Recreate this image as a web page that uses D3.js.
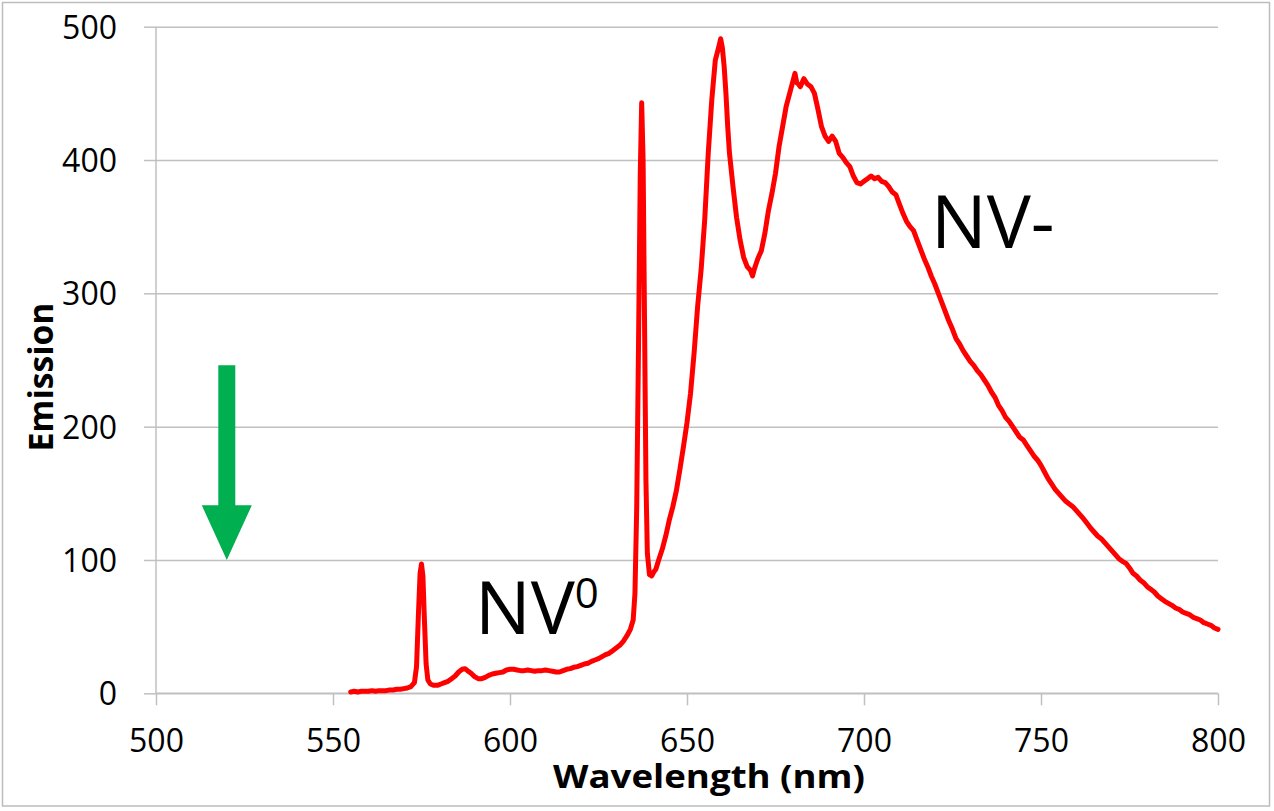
<!DOCTYPE html>
<html>
<head>
<meta charset="utf-8">
<script src="https://cdn.jsdelivr.net/npm/d3@7"></script>
<style>
  body { margin: 0; background: #fff; }
  svg text { font-family: "Open Sans", "Noto Sans", sans-serif; fill: #000; }
</style>
</head>
<body>
<div id="chart"></div>
<script>
// Emission spectrum (wavelength in nm, emission in counts)
var wavelength = [
  555, 556, 557, 558, 559, 560, 561, 562, 563, 564, 565, 566, 567, 568, 569, 570, 571, 572, 573,
  573.6, 574.1, 574.6, 575.0, 575.4, 575.8, 576.3, 576.8, 577.5, 578.5, 579.5, 580.5, 581.5, 582.5,
  583.5, 584.5, 585.5, 586.5, 587.3, 588, 589, 590, 591, 592, 593, 594, 595, 596, 597, 598, 599,
  600, 601, 602, 603, 604, 605, 606, 607, 608, 609, 610, 611, 612, 613, 614, 615, 616, 617, 618,
  619, 620, 621, 622, 623, 624, 625, 626, 627, 628, 629, 630, 631, 632, 633, 634, 634.8, 635.3,
  635.8, 636.3, 636.8, 637.2, 637.6, 638.0, 638.4, 638.8, 639.4, 640, 640.6, 641.2, 642, 643, 644,
  645, 646, 647, 648, 649, 650, 651, 652, 653, 654, 655, 656, 657, 658, 659, 659.5, 660, 660.5,
  661, 661.5, 662, 663, 664, 665, 666, 667, 668, 668.5, 669, 669.5, 670, 671, 672, 673, 674, 675,
  676, 677, 678, 679, 680, 680.5, 681, 681.5, 682, 683, 684, 685, 686, 687, 688, 689, 690, 691,
  692, 693, 694, 695, 696, 697, 698, 699, 700, 701, 702, 703, 704, 705, 706, 707, 708, 709, 710,
  711, 712, 713, 714, 715, 716, 717, 718, 719, 720, 721, 722, 723, 724, 725, 726, 727, 728, 729,
  730, 731, 732, 733, 734, 735, 736, 737, 738, 739, 740, 741, 742, 743, 744, 745, 746, 747, 748,
  749, 750, 751, 752, 753, 754, 755, 756, 757, 758, 759, 760, 761, 762, 763, 764, 765, 766, 767,
  768, 769, 770, 771, 772, 773, 774, 775, 776, 777, 778, 779, 780, 781, 782, 783, 784, 785, 786,
  787, 788, 789, 790, 791, 792, 793, 794, 795, 796, 797, 798, 799, 800
];
var emission = [
  1, 1.5, 1, 1.5, 1.5, 1.5, 2, 1.5, 2, 2, 2, 2.5, 2.5, 3, 3, 3.5, 4, 5, 8,
  20, 57, 90, 97, 88, 57, 22, 10, 7, 6, 6, 7, 8, 9,
  11, 13, 16, 18, 18.5, 17, 15, 12.5, 11, 11, 12, 13.5, 14.5, 15, 15.5, 16, 17.5,
  18, 18, 17.5, 17, 17, 17.5, 17, 16.5, 17, 17, 17.5, 17, 16.5, 16, 16, 17, 18, 18.5, 19.5,
  20, 21, 22, 22.5, 24, 25, 26, 27.5, 29, 30, 32, 34, 36, 39, 43, 48, 55, 75,
  140, 260, 390, 443, 400, 280, 160, 105, 89, 88, 91, 93, 100, 108, 118,
  130, 140, 152, 168, 185, 203, 225, 255, 290, 318, 355, 405, 445, 475, 485, 491, 484, 470,
  450, 425, 405, 380, 357, 340, 327, 320, 317, 313, 318, 322, 326, 332, 345, 362, 375, 390,
  410, 425, 440, 450, 460, 465, 458, 457, 455, 461, 457, 455, 450, 438, 425, 418, 414, 418,
  414, 405, 402, 398, 395, 388, 383, 382, 384, 386, 388, 386, 387, 384, 383, 380, 376, 374, 367,
  360, 354, 350, 347, 340, 333, 326, 320, 313, 307, 300, 293, 286, 279, 273, 266, 262, 257, 253,
  249, 246, 242, 239, 235, 231, 226, 222, 216, 212, 207, 204, 200, 196, 192, 190, 186, 182, 178,
  175, 171, 166, 161, 157, 153, 150, 147, 144, 142, 140, 137, 134, 131, 127.5, 124, 121, 118, 116,
  113, 110, 107, 104, 101, 99, 97.5, 94, 90, 88, 85, 83, 80, 78, 76, 73, 71, 69, 67.5,
  66, 64, 63, 61, 60, 59, 57, 56, 55, 53, 52, 51, 49, 48
];

var xTicks = [500, 550, 600, 650, 700, 750, 800];
var yTicks = [0, 100, 200, 300, 400, 500];

// annotations: text labels and the green arrow (arrow in data units)
var nv0Label = { text: "NV", sup: "0", x: 475, y: 634 };
var nvmLabel = { text: "NV-", x: 931, y: 248 };
var arrow = { wl: 520, top: 246, headTop: 141, tip: 100 };

var W = 1274, H = 811;
var margin = { top: 26.7, right: 56, bottom: 811 - 693.3, left: 156 };
var width = W - margin.left - margin.right,
    height = H - margin.top - margin.bottom;

var svg = d3.select("#chart").append("svg")
    .attr("width", W)
    .attr("height", H);

// outer chart frame
svg.append("rect")
    .attr("x", 2.5).attr("y", 2.5)
    .attr("width", 1267).attr("height", 803.5)
    .attr("fill", "none")
    .attr("stroke", "#bdbdbd")
    .attr("stroke-width", 1.5);

var g = svg.append("g")
    .attr("transform", "translate(" + margin.left + "," + margin.top + ")");

var x = d3.scaleLinear().domain([500, 800]).range([0, width]);
var y = d3.scaleLinear().domain([0, 500]).range([height, 0]);

var gridColor = "#c0c0c0";

// horizontal gridlines
var yGrid = g.append("g")
    .call(d3.axisLeft(y).tickValues(yTicks).tickSize(width).tickPadding(0).tickFormat(""))
    .attr("transform", "translate(" + width + ",0)");
yGrid.select(".domain").remove();
yGrid.selectAll("line").attr("stroke", gridColor).attr("stroke-width", 1.5);

// y axis
var yTickG = g.append("g")
    .call(d3.axisLeft(y).tickValues(yTicks).tickSize(12).tickPadding(27));
yTickG.select(".domain").attr("stroke", gridColor).attr("stroke-width", 1.5)
    .attr("d", "M0," + height + "V0");
yTickG.selectAll("line").attr("stroke", gridColor).attr("stroke-width", 1.5);
yTickG.selectAll("text")
    .style("font-size", "32px")
    .attr("dy", "0.36em");

// x axis
var xTickG = g.append("g")
    .attr("transform", "translate(0," + height + ")")
    .call(d3.axisBottom(x).tickValues(xTicks).tickSize(12).tickPadding(10));
xTickG.select(".domain").attr("stroke", gridColor).attr("stroke-width", 1.5)
    .attr("d", "M0,0H" + width);
xTickG.selectAll("line").attr("stroke", gridColor).attr("stroke-width", 1.5);
xTickG.selectAll("text")
    .style("font-size", "32px")
    .attr("y", 0)
    .attr("dy", 752 - 693.3);

// spectrum
var data = wavelength.map(function(d, i) { return { wl: d, v: emission[i] }; });

var line = d3.line()
    .x(function(d) { return x(d.wl); })
    .y(function(d) { return y(d.v); });

g.append("path")
    .datum(data)
    .attr("d", line)
    .attr("fill", "none")
    .attr("stroke", "#ff0000")
    .attr("stroke-width", 5)
    .attr("stroke-linejoin", "round")
    .attr("stroke-linecap", "round");

// green arrow
var ax = x(arrow.wl);
var arrowPts = [
    [ax - 8.5, y(arrow.top)], [ax + 8.5, y(arrow.top)],
    [ax + 8.5, y(arrow.headTop)], [ax + 25, y(arrow.headTop)],
    [ax, y(arrow.tip)],
    [ax - 25, y(arrow.headTop)], [ax - 8.5, y(arrow.headTop)]
];
g.append("polygon")
    .attr("points", arrowPts.map(function(p) { return p.join(","); }).join(" "))
    .attr("fill", "#00b050");

// axis titles
svg.append("text")
    .attr("x", 709)
    .attr("y", 788)
    .attr("text-anchor", "middle")
    .attr("textLength", 312)
    .attr("lengthAdjust", "spacingAndGlyphs")
    .style("font-size", "32px")
    .style("font-weight", "bold")
    .text("Wavelength (nm)");

svg.append("text")
    .attr("transform", "translate(53,377) rotate(-90)")
    .attr("text-anchor", "middle")
    .attr("textLength", 149)
    .attr("lengthAdjust", "spacingAndGlyphs")
    .style("font-size", "34px")
    .style("font-weight", "bold")
    .text("Emission");

// peak labels
var nv0 = svg.append("text")
    .attr("x", nv0Label.x)
    .attr("y", nv0Label.y)
    .style("font-size", "74px")
    .text(nv0Label.text);
nv0.append("tspan")
    .attr("dy", -26)
    .style("font-size", "42px")
    .text(nv0Label.sup);

svg.append("text")
    .attr("x", nvmLabel.x)
    .attr("y", nvmLabel.y)
    .style("font-size", "74px")
    .text(nvmLabel.text);
</script>
</body>
</html>
